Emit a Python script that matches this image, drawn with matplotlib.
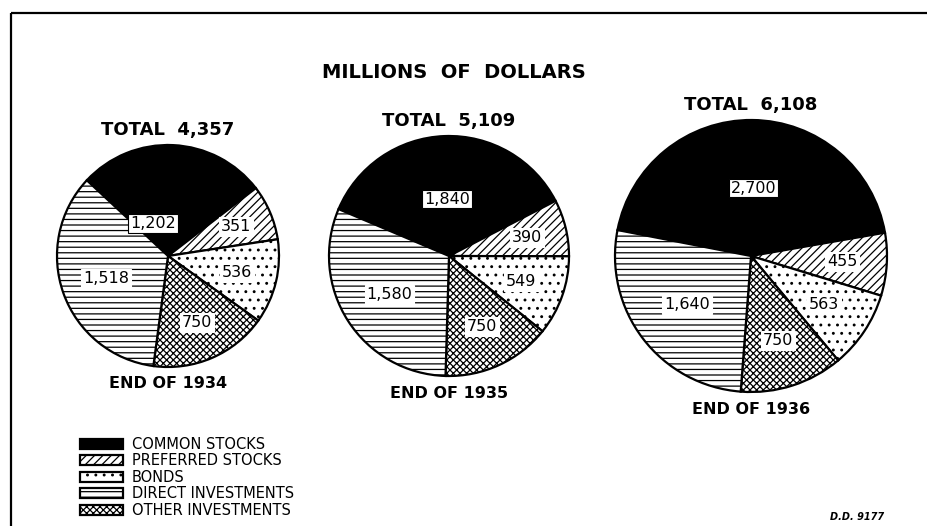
import matplotlib
matplotlib.use("Agg")
import matplotlib.pyplot as plt
import numpy as np

# ---- data ----
categories = ["COMMON STOCKS", "PREFERRED STOCKS", "BONDS",
              "DIRECT INVESTMENTS", "OTHER INVESTMENTS"]
years = ["1934", "1935", "1936"]
totals = ["4,357", "5,109", "6,108"]
common = [1202, 1840, 2700]
preferred = [351, 390, 455]
bonds = [536, 549, 563]
direct = [1518, 1580, 1640]
other = [750, 750, 750]

# pie drawing order (clockwise from start): common, preferred, bonds, other, direct
order = [0, 1, 2, 4, 3]

# ---- layout ----
W, H = 927, 526
centers = [(168, 256), (449, 256), (751, 256)]
radii = [111, 120, 136]
start_angles = [137, 157, 169]
label_dist = {0: 0.47, 1: 0.67, 2: 0.64, 3: 0.59, 4: 0.65}
common_label_angle = [115, 92, 88]
common_label_dist = [0.32, 0.475, 0.5]

hatches = {0: None, 1: "////", 2: "..", 3: "---", 4: "xxxxx"}
faces = {0: "black", 1: "white", 2: "white", 3: "white", 4: "white"}

plt.rcParams["hatch.linewidth"] = 0.9
plt.rcParams["font.family"] = ["DejaVu Sans"]

fig = plt.figure(figsize=(W / 100, H / 100), dpi=100)
ax = fig.add_axes([0, 0, 1, 1])
ax.set_xlim(0, W)
ax.set_ylim(0, H)
ax.set_aspect("equal")
ax.axis("off")


def Y(y):
    return H - y


series = [common, preferred, bonds, direct, other]
legend_handles = None
for i in range(3):
    vals = [series[k][i] for k in order]
    cx, cy = centers[i]
    wedges, _ = ax.pie(vals, center=(cx, Y(cy)), radius=radii[i],
                       startangle=start_angles[i], counterclock=False,
                       wedgeprops=dict(linewidth=1.6, edgecolor="black"),
                       frame=True)
    for w, k in zip(wedges, order):
        w.set_facecolor(faces[k])
        if hatches[k]:
            w.set_hatch(hatches[k])
    if i == 0:
        legend_handles = {k: w for w, k in zip(wedges, order)}
    # labels
    for w, k, v in zip(wedges, order, vals):
        if k == 0:
            ang = np.deg2rad(common_label_angle[i])
            d = common_label_dist[i]
        else:
            ang = np.deg2rad((w.theta1 + w.theta2) / 2)
            d = label_dist[k]
        lx = cx + d * radii[i] * np.cos(ang)
        ly = Y(cy) + d * radii[i] * np.sin(ang)
        ax.text(lx, ly, f"{v:,}", ha="center", va="center", fontsize=11.5,
                color="black",
                bbox=dict(boxstyle="square,pad=0.12", facecolor="white",
                          edgecolor="white" if k else "black", linewidth=0.8))
    # titles
    top = cy - radii[i]
    bot = cy + radii[i]
    ax.text(cx, Y(top - 15), f"TOTAL  {totals[i]}", ha="center", va="center",
            fontsize=13, fontweight="bold")
    ax.text(cx, Y(bot + 17), f"END OF {years[i]}", ha="center", va="center",
            fontsize=11.5, fontweight="bold")

ax.set_xlim(0, W)
ax.set_ylim(0, H)
ax.axis("off")

ax.text(454, Y(73), "MILLIONS  OF  DOLLARS", ha="center", va="center",
        fontsize=14, fontweight="bold")

# frame (left and top)
ax.plot([11, 11], [Y(13), Y(H + 5)], color="black", lw=1.6,
        solid_capstyle="butt", clip_on=False)
ax.plot([11, W + 5], [Y(13), Y(13)], color="black", lw=1.6,
        solid_capstyle="butt", clip_on=False)

# legend
leg_order = [0, 1, 2, 3, 4]
leg = ax.legend([legend_handles[k] for k in leg_order],
                [categories[k] for k in leg_order],
                loc="upper left", bbox_to_anchor=(80 / W, 1 - 437 / H),
                bbox_transform=fig.transFigure, frameon=False,
                fontsize=10.5, handlelength=2.95, handleheight=0.7,
                labelspacing=0.1, handletextpad=0.6, borderpad=0,
                borderaxespad=0)

ax.text(857, Y(517), "D.D. 9177", ha="center", va="center", fontsize=7,
        style="italic", fontweight="bold")

fig.savefig("out.png", dpi=100)
